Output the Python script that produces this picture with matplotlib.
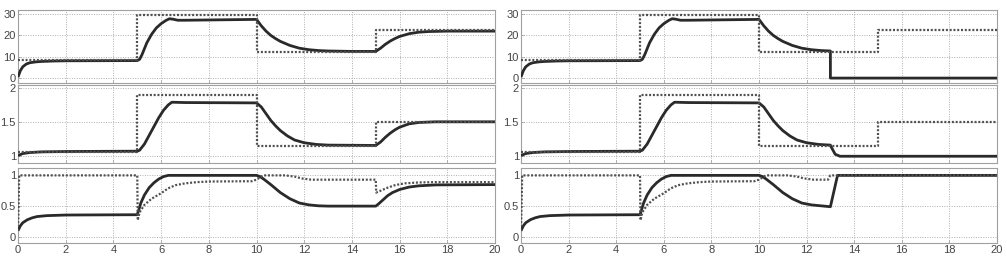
import matplotlib
matplotlib.use("Agg")
import matplotlib.pyplot as plt

plt.rcParams['font.family'] = ['Liberation Sans', 'DejaVu Sans']

# ---------------- data ----------------
# reference (dotted) step levels
step_t = [0, 5, 10, 15, 20]
ref1_left = [8.3, 29.5, 12.3, 22.3, 22.3]
ref2_left = [1.06, 1.9, 1.14, 1.5, 1.5]

# solid response, top row
t1 = [0, 0.1, 0.2, 0.35, 0.5, 0.75, 1.0, 1.5, 2.0, 5.0, 5.1, 5.2, 5.4, 5.6, 5.8, 6.0,
      6.2, 6.35, 6.5, 6.7, 7.0, 10.0, 10.2, 10.4, 10.6, 10.8, 11.0, 11.4, 11.8, 12.2,
      12.6, 13.0]
y1 = [0.5, 3.5, 5.3, 6.6, 7.2, 7.6, 7.8, 8.0, 8.1, 8.2, 8.8, 11.0, 16.5, 20.5, 23.5, 25.5,
      27.0, 27.8, 27.6, 27.1, 27.1, 27.5, 24.5, 22.0, 20.0, 18.5, 17.2, 15.3, 14.0, 13.3,
      12.9, 12.7]
t1_tail_left = [14.0, 15.0, 15.2, 15.4, 15.6, 15.8, 16.0, 16.4, 16.8, 17.2, 18.0, 20.0]
y1_tail_left = [12.5, 12.5, 14.0, 15.8, 17.3, 18.5, 19.5, 20.8, 21.5, 21.8, 22.0, 22.0]
t1_tail_right = [13.0, 20.0]
y1_tail_right = [0.0, 0.0]
ref1_right_t = [0, 5, 10, 15, 20]
ref1_right = [8.3, 29.5, 12.3, 22.3, 22.3]

# solid response, middle row
t2 = [0, 0.2, 0.5, 1.0, 2.0, 5.0, 5.1, 5.3, 5.5, 5.7, 5.9, 6.1, 6.3, 6.45, 7.0, 10.0,
      10.2, 10.4, 10.6, 10.8, 11.0, 11.3, 11.6, 12.0, 12.5, 13.0]
y2 = [1.0, 1.03, 1.045, 1.055, 1.06, 1.065, 1.08, 1.17, 1.3, 1.43, 1.56, 1.67, 1.75, 1.79,
      1.785, 1.78, 1.72, 1.62, 1.52, 1.44, 1.37, 1.29, 1.23, 1.19, 1.165, 1.155]
t2_tail_left = [15.0, 15.2, 15.4, 15.6, 15.8, 16.0, 16.4, 16.8, 17.5, 20.0]
y2_tail_left = [1.15, 1.2, 1.27, 1.33, 1.38, 1.42, 1.47, 1.49, 1.5, 1.5]
t2_tail_right = [13.0, 13.2, 13.4, 20.0]
y2_tail_right = [1.15, 1.02, 0.99, 0.99]

# solid response, bottom row
t3 = [0, 0.1, 0.2, 0.4, 0.6, 0.8, 1.2, 2.0, 5.0, 5.05, 5.15, 5.3, 5.5, 5.7, 5.9, 6.1,
      6.3, 10.0, 10.15, 10.3, 10.6, 11.0, 11.4, 11.8, 12.2, 12.6]
y3 = [0.1, 0.18, 0.23, 0.28, 0.31, 0.33, 0.345, 0.355, 0.36, 0.42, 0.55, 0.68, 0.8, 0.88,
      0.94, 0.98, 1.0, 1.0, 0.98, 0.94, 0.85, 0.72, 0.62, 0.55, 0.52, 0.505]
t3_tail_left = [13.0, 15.0, 15.1, 15.3, 15.5, 15.7, 16.0, 16.4, 16.8, 17.5, 20.0]
y3_tail_left = [0.5, 0.5, 0.53, 0.6, 0.67, 0.72, 0.77, 0.81, 0.83, 0.845, 0.85]
t3_tail_right = [13.0, 13.3, 20.0]
y3_tail_right = [0.49, 1.0, 1.0]

# dotted signal, bottom row
tr3 = [0, 0.05, 5.0, 5.02, 5.1, 5.3, 5.6, 6.0, 6.3, 6.6, 7.0, 7.5, 8.0, 9.8, 10.0, 10.2,
       10.3, 11.2, 11.6, 11.9, 12.3]
r3 = [0.1, 1.0, 1.0, 0.27, 0.4, 0.52, 0.62, 0.71, 0.79, 0.84, 0.87, 0.89, 0.9, 0.905,
      0.93, 0.98, 1.0, 1.0, 0.98, 0.95, 0.93]
tr3_tail_left = [15.0, 15.02, 15.2, 15.5, 15.8, 16.2, 16.8, 17.5, 20.0]
r3_tail_left = [0.93, 0.72, 0.75, 0.8, 0.84, 0.87, 0.885, 0.89, 0.89]
tr3_tail_right = [12.9, 13.0, 20.0]
r3_tail_right = [0.93, 1.0, 1.0]

xticks = [0, 2, 4, 6, 8, 10, 12, 14, 16, 18, 20]
yticks_top = [0, 10, 20, 30]
yticks_mid = [1, 1.5, 2]
yticks_bot = [0, 0.5, 1]
ytick_labels_mid = ['1', '1.5', '2']
ytick_labels_bot = ['0', '0.5', '1']

# ---------------- layout ----------------
W, H = 1007, 261
fig = plt.figure(figsize=(W / 100, H / 100), dpi=100)

cols = [(18, 495), (521, 997)]
rows = [(10, 83), (85, 163), (168, 243)]
ylims = [(-2.3, 31.9), (0.89, 2.045), (-0.1, 1.12)]
yticks = [yticks_top, yticks_mid, yticks_bot]
ylabels = [['0', '10', '20', '30'], ytick_labels_mid, ytick_labels_bot]

SOLID = dict(color='#2a2a2a', lw=2.0, solid_capstyle='butt', zorder=3)
DOT = dict(color='#505050', lw=1.6, linestyle=(0, (0.9, 0.8)), zorder=4)


def make_ax(c, r):
    x0, x1 = cols[c]
    top, bot = rows[r]
    ax = fig.add_axes([x0 / W, 1 - bot / H, (x1 - x0) / W, (bot - top) / H])
    ax.set_xlim(0, 20)
    ax.set_ylim(*ylims[r])
    ax.set_xticks(xticks)
    ax.set_yticks(yticks[r])
    ax.set_yticklabels(ylabels[r])
    if r < 2:
        ax.set_xticklabels([])
    ax.grid(True, color='#b0b0b0', linestyle=(0, (1, 1.5)), lw=0.7)
    ax.tick_params(direction='in', length=2, width=0.5, colors='#9a9a9a',
                   labelcolor='#444444', labelsize=8, pad=1.5)
    for s in ax.spines.values():
        s.set_color('#a0a0a0')
        s.set_linewidth(0.8)
    return ax


for c in range(2):
    # top
    ax = make_ax(c, 0)
    if c == 0:
        ax.plot(step_t, ref1_left, drawstyle='steps-post', **DOT)
        ax.plot(t1 + t1_tail_left, y1 + y1_tail_left, **SOLID)
    else:
        ax.plot(ref1_right_t, ref1_right, drawstyle='steps-post', **DOT)
        ax.plot(t1 + t1_tail_right, y1 + y1_tail_right, **SOLID)
    # middle
    ax = make_ax(c, 1)
    ax.plot(step_t, ref2_left, drawstyle='steps-post', **DOT)
    if c == 0:
        ax.plot(t2 + t2_tail_left, y2 + y2_tail_left, **SOLID)
    else:
        ax.plot(t2 + t2_tail_right, y2 + y2_tail_right, **SOLID)
    # bottom
    ax = make_ax(c, 2)
    if c == 0:
        ax.plot(tr3 + tr3_tail_left, r3 + r3_tail_left, **DOT)
        ax.plot(t3 + t3_tail_left, y3 + y3_tail_left, **SOLID)
    else:
        ax.plot(tr3 + tr3_tail_right, r3 + r3_tail_right, **DOT)
        ax.plot(t3 + t3_tail_right, y3 + y3_tail_right, **SOLID)

fig.savefig('out.png', dpi=100)
